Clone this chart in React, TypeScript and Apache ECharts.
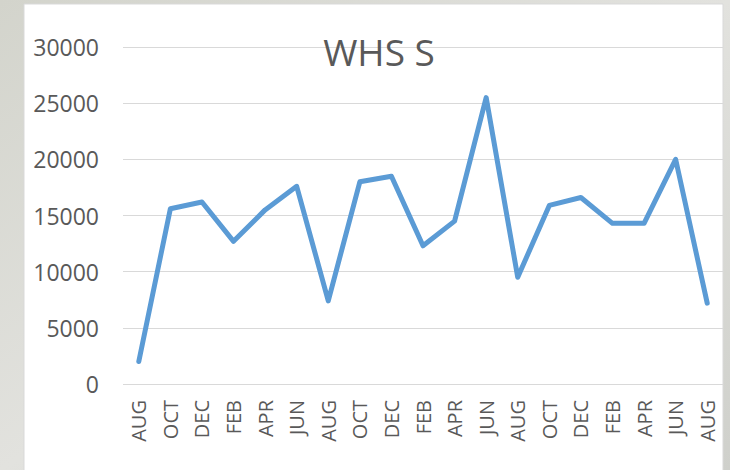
import React, { useEffect, useRef } from "react";
import * as echarts from "echarts";

const categories = ["AUG","OCT","DEC","FEB","APR","JUN","AUG","OCT","DEC","FEB","APR","JUN","AUG","OCT","DEC","FEB","APR","JUN","AUG"];
const values = [2000,15600,16200,12700,15500,17600,7400,18000,18500,12300,14500,25500,9500,15900,16600,14300,14300,20000,7200];
const titleText = "WHS S";

export default function App() {
  const ref = useRef<HTMLDivElement>(null);
  useEffect(() => {
    const chart = echarts.init(ref.current!, null, { renderer: "svg" });
    chart.setOption({
      animation: false,
      backgroundColor: {
        type: "linear", x: 0, y: 0, x2: 1, y2: 1,
        colorStops: [
          { offset: 0, color: "#d3d4cc" },
          { offset: 0.5, color: "#e2e2de" },
          { offset: 1, color: "#cfd0cb" },
        ],
      },
      graphic: [
        {
          type: "rect",
          shape: { x: 24, y: 4, width: 699, height: 470 },
          style: { fill: "#ffffff", stroke: "#d9d9d9", lineWidth: 1 },
          z: -10,
        },
      ],
      title: {
        text: titleText,
        left: 374,
        top: 28,
        textAlign: "center",
        textStyle: { fontFamily: "Open Sans", fontSize: 37, fontWeight: "normal", color: "#595959" },
      },
      grid: { left: 123, right: 7, top: 47, bottom: 86 },
      xAxis: {
        type: "category",
        data: categories,
        boundaryGap: true,
        axisLine: { show: false },
        axisTick: { show: false },
        axisLabel: {
          rotate: 90,
          interval: 0,
          margin: 16,
          color: "#595959",
          fontFamily: "Open Sans",
          fontSize: 20,
        },
      },
      yAxis: {
        type: "value",
        min: 0,
        max: 30000,
        interval: 5000,
        axisLine: { show: false },
        axisTick: { show: false },
        splitLine: { lineStyle: { color: "#d9d9d9", width: 1 } },
        axisLabel: {
          margin: 24,
          color: "#595959",
          fontFamily: "Open Sans",
          fontSize: 23,
          formatter: (v: number) => String(v),
        },
      },
      series: [
        {
          type: "line",
          data: values,
          showSymbol: false,
          symbol: "none",
          lineStyle: { color: "#5b9bd5", width: 5, cap: "round", join: "round" },
        },
      ],
    });
    return () => chart.dispose();
  }, []);
  return <div ref={ref} style={{ position: "fixed", left: 0, top: 0, width: 730, height: 470 }} />;
}
